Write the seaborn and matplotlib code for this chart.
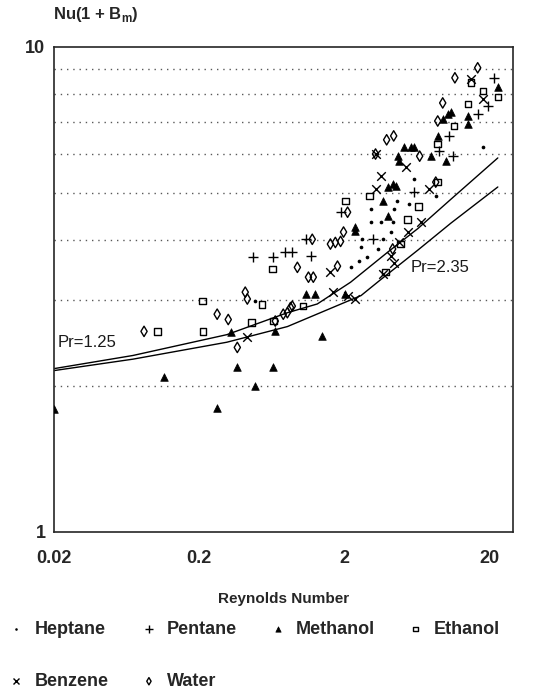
import numpy as np
import pandas as pd
import seaborn as sns
import matplotlib.pyplot as plt
from matplotlib.ticker import FixedLocator, NullLocator, NullFormatter

# Values (Reynolds number, Nu(1+Bm))
heptane_re = [0.487, 2.66, 2.58, 3.02, 3.02, 3.54, 3.71, 4.15, 4.29, 4.36, 4.57, 5.52, 3.38, 2.20, 8.49, 17.9, 5.98, 2.84, 2.5]
heptane_nu = [2.99, 4.01, 3.86, 4.63, 4.35, 4.35, 4.01, 4.15, 4.35, 4.63, 4.81, 4.74, 3.83, 3.51, 4.92, 6.21, 5.34, 3.68, 3.62]

pentane_re = [0.471, 0.647, 0.783, 0.875, 1.08, 1.17, 1.88, 3.12, 5.98, 10.4, 8.9, 11.1, 16.5, 19.4, 21.3]
pentane_nu = [3.68, 3.68, 3.77, 3.77, 4.01, 3.70, 4.56, 4.01, 5.01, 6.55, 6.10, 5.95, 7.27, 7.55, 8.63]

methanol_re = [0.02, 0.115, 0.266, 0.333, 0.366, 0.487, 0.647, 0.668, 1.08, 1.26, 1.41, 2.03, 2.38, 2.38,
               3.66, 3.96, 3.96, 4.29, 4.50, 4.64, 4.71, 5.11, 5.70, 5.98, 7.84, 9.95, 8.76, 9.48, 10.3,
               10.8, 14.1, 14.1, 22.7]
methanol_nu = [1.79, 2.09, 1.80, 2.58, 2.19, 2.00, 2.19, 2.59, 3.09, 3.09, 2.53, 3.09, 4.25, 4.17,
               4.81, 4.48, 5.14, 5.21, 5.16, 5.95, 5.81, 6.21, 6.21, 6.21, 5.95, 5.81, 6.55, 7.10, 7.27,
               7.34, 7.20, 6.93, 8.27]

ethanol_re = [0.103, 0.21, 0.213, 0.543, 0.637, 0.457, 0.647, 1.04, 2.03, 2.97, 5.43, 6.47, 4.87, 3.83,
              8.76, 11.3, 14.1, 17.9, 22.7, 14.8, 8.76]
ethanol_nu = [2.59, 2.99, 2.59, 2.94, 3.48, 2.70, 2.72, 2.92, 4.81, 4.92, 4.41, 4.69, 3.92, 3.43,
              6.30, 6.87, 7.62, 8.11, 7.88, 8.43, 5.26]

benzene_re = [0.429, 1.60, 1.68, 2.10, 2.38, 3.54, 3.27, 3.27, 5.27, 7.59, 6.69, 5.43, 4.15, 4.36, 17.9, 14.8, 4.71, 3.71]
benzene_nu = [2.52, 3.43, 3.12, 3.07, 3.02, 5.41, 5.09, 6.01, 5.65, 5.09, 4.35, 4.15, 3.70, 3.59, 7.81, 8.59, 3.95, 3.40]

water_re = [0.0835, 0.266, 0.317, 0.415, 0.366, 0.668, 0.809, 0.875, 0.948, 1.13, 1.22, 1.20, 1.60, 1.73,
            1.88, 1.97, 1.79, 4.29, 3.27, 3.90, 4.36, 6.58, 8.49, 8.76, 9.48, 11.5, 16.5, 0.758, 0.85,
            0.429, 2.10]
water_nu = [2.59, 2.81, 2.74, 3.12, 2.40, 2.72, 2.83, 2.92, 3.51, 3.35, 3.35, 4.01, 3.92, 3.95,
            3.97, 4.15, 3.53, 3.83, 6.01, 6.43, 6.55, 5.95, 5.26, 7.03, 7.66, 8.63, 9.05, 2.81, 2.90,
            3.02, 4.56]

# Correlation curves
pr235_re = [0.02, 0.07, 0.31, 0.81, 1.3, 2.2, 4.0, 6.4, 10.8, 22.7]
pr235_nu = [2.17, 2.31, 2.55, 2.83, 2.95, 3.27, 3.78, 4.22, 4.85, 5.90]
pr125_re = [0.02, 0.07, 0.31, 0.81, 2.6, 3.5, 6.4, 10.8, 22.7]
pr125_nu = [2.15, 2.27, 2.46, 2.65, 3.07, 3.30, 3.81, 4.33, 5.14]

fluids = {
    "Heptane": (heptane_re, heptane_nu),
    "Pentane": (pentane_re, pentane_nu),
    "Methanol": (methanol_re, methanol_nu),
    "Ethanol": (ethanol_re, ethanol_nu),
    "Benzene": (benzene_re, benzene_nu),
    "Water": (water_re, water_nu),
}
df = pd.concat([pd.DataFrame({"Re": r, "Nu": n, "fluid": k}) for k, (r, n) in fluids.items()],
               ignore_index=True)

sns.set_theme(style="white")
plt.rcParams["font.family"] = ["Liberation Sans", "DejaVu Sans"]
plt.rcParams["mathtext.fontset"] = "custom"
plt.rcParams["mathtext.bf"] = "Liberation Sans:bold"
plt.rcParams["mathtext.rm"] = "Liberation Sans:bold"

styles = {
    "Heptane": dict(marker="o", s=7, color="black", edgecolor="black", linewidth=0),
    "Pentane": dict(marker="+", s=55, color="black", linewidth=1.0),
    "Methanol": dict(marker="^", s=30, color="black", edgecolor="black", linewidth=0.5),
    "Ethanol": dict(marker="s", s=22, facecolor="none", edgecolor="black", linewidth=1.0),
    "Benzene": dict(marker="x", s=38, color="black", linewidth=1.0),
    "Water": dict(marker="d", s=28, facecolor="none", edgecolor="black", linewidth=1.0),
}

fig = plt.figure(figsize=(5.33, 6.98), dpi=100)
ax = fig.add_axes([0.101, 0.238, 0.862, 0.695])

for name, st in styles.items():
    sub = df[df["fluid"] == name]
    sns.scatterplot(data=sub, x="Re", y="Nu", ax=ax, label=name, zorder=3, **st)

sns.lineplot(x=pr235_re, y=pr235_nu, ax=ax, color="black", linewidth=1.0, sort=False, estimator=None)
sns.lineplot(x=pr125_re, y=pr125_nu, ax=ax, color="black", linewidth=1.0, sort=False, estimator=None)

ax.set_xscale("log")
ax.set_yscale("log")
ax.set_xlim(0.02, 29)
ax.set_ylim(1, 10)

ax.xaxis.set_major_locator(FixedLocator([0.02, 0.2, 2, 20]))
ax.set_xticklabels(["0.02", "0.2", "2", "20"])
ax.xaxis.set_minor_locator(NullLocator())
ax.yaxis.set_major_locator(FixedLocator([1, 10]))
ax.set_yticklabels(["1", "10"])
ax.yaxis.set_minor_locator(FixedLocator([2, 3, 4, 5, 6, 7, 8, 9]))
ax.yaxis.set_minor_formatter(NullFormatter())

ax.tick_params(axis="x", which="major", direction="in", length=7, width=1, color="0.3",
               pad=13, labelsize=13)
ax.tick_params(axis="y", which="major", direction="in", length=0, pad=6, labelsize=13)
ax.tick_params(axis="y", which="minor", direction="in", length=3, width=1, color="0.3")
for lab in ax.get_xticklabels() + ax.get_yticklabels():
    lab.set_fontweight("bold")

ax.grid(False)
ax.yaxis.grid(True, which="minor", linestyle=(0, (1, 3.5)), color="0.35", linewidth=1.0)
for sp in ax.spines.values():
    sp.set_color("0.15")
    sp.set_linewidth(1.2)

ax.set_xlabel("Reynolds Number", fontsize=11, fontweight="bold", labelpad=18)
ax.set_ylabel(r"Nu(1 + B$_{\mathbf{m}}$)", fontsize=12, fontweight="bold", rotation=0,
              ha="left", va="center")
ax.yaxis.set_label_coords(-0.002, 1.066)

ax.text(0.0213, 2.46, "Pr=1.25", fontsize=12, ha="left", va="center", color="0.1")
ax.text(5.7, 3.51, "Pr=2.35", fontsize=12, ha="left", va="center", color="0.1")

h, l = ax.get_legend_handles_labels()
ax.get_legend().remove()
order = ["Heptane", "Benzene", "Pentane", "Water", "Methanol", "Ethanol"]
hmap = dict(zip(l, h))
fig.legend([hmap[k] for k in order], order, loc="upper left", bbox_to_anchor=(0.0, 0.121),
           ncol=4, frameon=False, prop={"size": 13, "weight": "bold"}, handlelength=1.0,
           handletextpad=0.5, columnspacing=1.75, labelspacing=1.95, markerscale=0.7,
           borderaxespad=0)

fig.savefig("out.png", dpi=100, facecolor="white")
